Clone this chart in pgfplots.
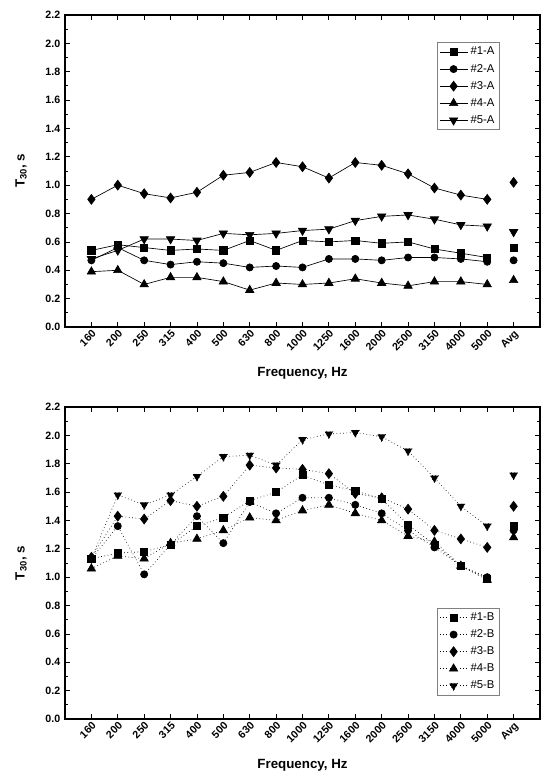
\documentclass[border=0pt]{standalone}
\usepackage{fontspec}
\setmainfont{Liberation Sans}
\usepackage{pgfplots}
\usepackage{pgfplotstable}
\pgfplotsset{compat=1.18}

\pgfplotstableread{
x a1 a2 a3 a4 a5
0 0.54 0.47 0.90 0.39 0.48
1 0.58 0.56 1.00 0.40 0.54
2 0.56 0.47 0.94 0.30 0.62
3 0.54 0.44 0.91 0.35 0.62
4 0.55 0.46 0.95 0.35 0.61
5 0.54 0.45 1.07 0.32 0.66
6 0.61 0.42 1.09 0.26 0.65
7 0.54 0.43 1.16 0.31 0.66
8 0.61 0.42 1.13 0.30 0.68
9 0.60 0.48 1.05 0.31 0.69
10 0.61 0.48 1.16 0.34 0.75
11 0.59 0.47 1.14 0.31 0.78
12 0.60 0.49 1.08 0.29 0.79
13 0.55 0.49 0.98 0.32 0.76
14 0.52 0.48 0.93 0.32 0.72
15 0.49 0.46 0.90 0.30 0.71
}\topdata
\pgfplotstableread{
x a1 a2 a3 a4 a5
16 0.56 0.47 1.02 0.33 0.67
}\topavg
\pgfplotstableread{
x b1 b2 b3 b4 b5
0 1.13 1.13 1.14 1.06 1.13
1 1.17 1.36 1.43 1.15 1.58
2 1.18 1.02 1.41 1.13 1.51
3 1.23 1.23 1.54 1.24 1.58
4 1.36 1.43 1.50 1.27 1.71
5 1.42 1.24 1.57 1.33 1.85
6 1.54 1.53 1.79 1.42 1.86
7 1.60 1.45 1.77 1.40 1.79
8 1.72 1.56 1.76 1.47 1.97
9 1.65 1.56 1.73 1.51 2.01
10 1.61 1.51 1.59 1.45 2.02
11 1.55 1.45 1.56 1.40 1.99
12 1.37 1.33 1.48 1.29 1.89
13 1.23 1.21 1.33 1.25 1.70
14 1.08 1.08 1.27 1.08 1.50
15 0.99 1.00 1.21 0.98 1.36
}\botdata
\pgfplotstableread{
x b1 b2 b3 b4 b5
16 1.36 1.33 1.50 1.28 1.72
}\botavg

\pgfplotsset{
  myax/.style={
    scale only axis, width=356.25pt, height=234pt,
    xmin=-1, xmax=17, ymin=0, ymax=2.2,
    xtick={0,1,2,3,4,5,6,7,8,9,10,11,12,13,14,15,16},
    xticklabels={160,200,250,315,400,500,630,800,1000,1250,1600,2000,2500,3150,4000,5000,Avg},
    ytick={0,0.2,0.4,0.6,0.8,1.0,1.2,1.4,1.6,1.8,2.0,2.2},
    minor y tick num=1,
    tick align=inside,
    major tick length=3.75pt, minor tick length=2.2pt,
    axis line style={line width=0.8pt},
    every tick/.style={line width=0.6pt, black},
    /pgf/number format/assume math mode=true,
    yticklabel style={font=\bfseries\fontsize{8}{9}\selectfont,
      /pgf/number format/fixed, /pgf/number format/fixed zerofill, /pgf/number format/precision=1},
    xticklabel style={font=\bfseries\fontsize{8}{9}\selectfont, rotate=45, anchor=north east, inner sep=1pt},
    xlabel={Frequency, Hz}, ylabel={T\textsubscript{30}, s},
    label style={font=\bfseries\fontsize{10}{12}\selectfont},
    xlabel style={at={(rel axis cs:0.5,0)}, anchor=center, yshift=-34.5pt},
    ylabel style={at={(rel axis cs:0,0.5)}, anchor=center, yshift=33pt},
    legend style={font=\fontsize{8.5}{10}\selectfont, draw=gray, line width=0.5pt,
      anchor=north west, inner sep=1.5pt, row sep=1.4pt},
    legend cell align=left,
    legend image code/.code={\draw[mark repeat=2,mark phase=2] plot coordinates {(0pt,0pt) (10.5pt,0pt) (21pt,0pt)};},
  },
  sq/.style={mark=square*, mark size=2.7pt},
  ci/.style={mark=*, mark size=2.7pt},
  di/.style={mark=diamond*, mark size=3.7pt},
  tu/.style={mark=triangle*, mark size=3.6pt},
  td/.style={mark=triangle*, mark size=3.6pt, mark options={rotate=180}},
}

\begin{document}
\begin{tikzpicture}
\path[use as bounding box] (0,0) rectangle (405pt,588pt);
% top
\begin{axis}[myax, at={(48.75pt,342.75pt)}, anchor=south west,
  legend style={at={(rel axis cs:0.783,0.913)}},
  every axis plot/.append style={black, line width=0.5pt, mark options={solid}}]
\addplot[sq] table[x=x,y=a1] {\topdata}; \addlegendentry{\#1-A}
\addplot[ci] table[x=x,y=a2] {\topdata}; \addlegendentry{\#2-A}
\addplot[di] table[x=x,y=a3] {\topdata}; \addlegendentry{\#3-A}
\addplot[tu] table[x=x,y=a4] {\topdata}; \addlegendentry{\#4-A}
\addplot[td] table[x=x,y=a5] {\topdata}; \addlegendentry{\#5-A}
\addplot[sq, only marks, forget plot] table[x=x,y=a1] {\topavg};
\addplot[ci, only marks, forget plot] table[x=x,y=a2] {\topavg};
\addplot[di, only marks, forget plot] table[x=x,y=a3] {\topavg};
\addplot[tu, only marks, forget plot] table[x=x,y=a4] {\topavg};
\addplot[td, only marks, forget plot] table[x=x,y=a5] {\topavg};
\end{axis}
% bottom
\begin{axis}[myax, at={(48.75pt,48.75pt)}, anchor=south west,
  legend style={at={(rel axis cs:0.783,0.357)}},
  every axis plot/.append style={black, line width=0.5pt, dotted, mark options={solid}}]
\addplot[sq] table[x=x,y=b1] {\botdata}; \addlegendentry{\#1-B}
\addplot[ci] table[x=x,y=b2] {\botdata}; \addlegendentry{\#2-B}
\addplot[di] table[x=x,y=b3] {\botdata}; \addlegendentry{\#3-B}
\addplot[tu] table[x=x,y=b4] {\botdata}; \addlegendentry{\#4-B}
\addplot[td] table[x=x,y=b5] {\botdata}; \addlegendentry{\#5-B}
\addplot[sq, only marks, forget plot] table[x=x,y=b1] {\botavg};
\addplot[ci, only marks, forget plot] table[x=x,y=b2] {\botavg};
\addplot[di, only marks, forget plot] table[x=x,y=b3] {\botavg};
\addplot[tu, only marks, forget plot] table[x=x,y=b4] {\botavg};
\addplot[td, only marks, forget plot] table[x=x,y=b5] {\botavg};
\end{axis}
\end{tikzpicture}
\end{document}
